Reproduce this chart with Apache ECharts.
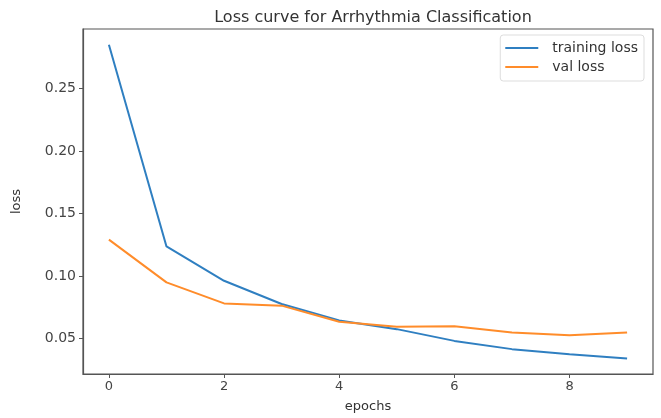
<!DOCTYPE html>
<html>
<head>
<meta charset="utf-8">
<script src="https://cdn.jsdelivr.net/npm/echarts@6/dist/echarts.min.js"></script>
<style>html,body{margin:0;padding:0;background:#fff;}#c{width:661px;height:418px;}</style>
</head>
<body>
<div id="c"></div>
<script>
const epochs = [0, 1, 2, 3, 4, 5, 6, 7, 8, 9];
const trainingLoss = [0.285, 0.1236, 0.0961, 0.0775, 0.0644, 0.0574, 0.048, 0.0414, 0.0374, 0.034];
const valLoss = [0.129, 0.0948, 0.078, 0.0762, 0.0633, 0.0593, 0.0598, 0.0548, 0.0526, 0.0548];
const xTicks = [0, 2, 4, 6, 8];
const yTicks = [0.05, 0.10, 0.15, 0.20, 0.25];

const font = 'DejaVu Sans';
const chart = echarts.init(document.getElementById('c'));
chart.setOption({
  animation: false,
  backgroundColor: '#fff',
  textStyle: { fontFamily: font },
  title: {
    text: 'Loss curve for Arrhythmia Classification',
    left: 368, top: 5, textAlign: 'center',
    textStyle: { fontFamily: font, fontSize: 16, fontWeight: 'normal', color: '#333' }
  },
  legend: {
    orient: 'vertical', right: 17, top: 35,
    padding: [5, 6, 6, 5], itemGap: 3,
    icon: 'rect', itemWidth: 33, itemHeight: 2,
    backgroundColor: '#fff', borderColor: '#ddd', borderWidth: 1, borderRadius: 3,
    textStyle: { fontFamily: font, fontSize: 14, color: '#333', padding: [0, 0, 0, 9], lineHeight: 16 },
    data: ['training loss', 'val loss']
  },
  grid: {
    left: 83, right: 8, top: 29, bottom: 43,
    show: true, borderColor: '#555', borderWidth: 1.2, backgroundColor: 'transparent'
  },
  xAxis: {
    type: 'value', min: -0.45, max: 9.45,
    name: 'epochs', nameLocation: 'middle', nameGap: 26,
    nameTextStyle: { fontFamily: font, fontSize: 13, color: '#333' },
    axisLine: { show: true, onZero: false, lineStyle: { color: '#555', width: 1.2 } },
    axisTick: { show: true, length: 4, customValues: xTicks, lineStyle: { color: '#555' } },
    axisLabel: { customValues: xTicks, fontFamily: font, fontSize: 13, color: '#444', margin: 6 },
    splitLine: { show: false }
  },
  yAxis: {
    type: 'value', min: 0.0215, max: 0.2976,
    name: 'loss', nameLocation: 'middle', nameGap: 60,
    nameTextStyle: { fontFamily: font, fontSize: 13, color: '#333' },
    axisLine: { show: true, onZero: false, lineStyle: { color: '#555', width: 1.2 } },
    axisTick: { show: true, length: 4, customValues: yTicks, lineStyle: { color: '#555' } },
    axisLabel: { customValues: yTicks, fontFamily: font, fontSize: 14, color: '#444', margin: 7,
      formatter: v => v.toFixed(2) },
    splitLine: { show: false }
  },
  series: [
    { name: 'training loss', type: 'line', symbol: 'none',
      data: epochs.map((e, i) => [e, trainingLoss[i]]),
      lineStyle: { color: '#2f7fc1', width: 2 }, itemStyle: { color: '#2f7fc1' } },
    { name: 'val loss', type: 'line', symbol: 'none',
      data: epochs.map((e, i) => [e, valLoss[i]]),
      lineStyle: { color: '#ff8c2a', width: 2 }, itemStyle: { color: '#ff8c2a' } }
  ]
});
</script>
</body>
</html>
